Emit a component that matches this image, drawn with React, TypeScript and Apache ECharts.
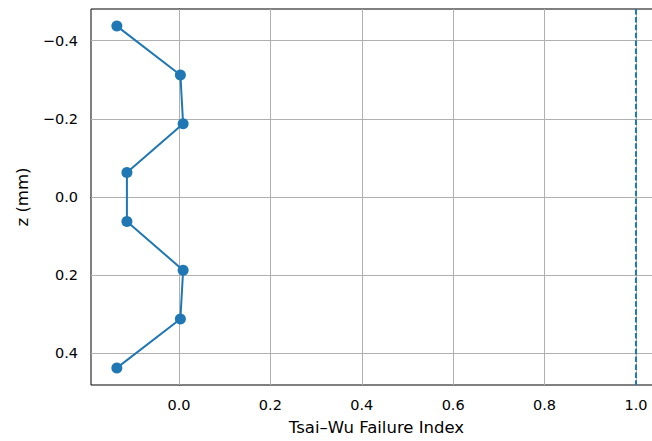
import React, { useEffect, useRef } from "react";
import * as echarts from "echarts";

// Tsai–Wu failure index at each ply mid-plane through the thickness
const zValues = [-0.4375, -0.3125, -0.1875, -0.0625, 0.0625, 0.1875, 0.3125, 0.4375];
const failureIndex = [-0.136, 0.003, 0.009, -0.114, -0.114, 0.009, 0.003, -0.136];
const failureLimit = 1.0;

const xTicks = [0.0, 0.2, 0.4, 0.6, 0.8, 1.0];
const yTicks = [-0.4, -0.2, 0.0, 0.2, 0.4];

const X_MIN = -0.1926;
const X_MAX = 1.057;
const Y_MIN = -0.48125;
const Y_MAX = 0.48125;

const BLUE = "#1f77b4";
const FONT = "DejaVu Sans";

const fmt = (v: number) => {
  const s = Math.abs(v) < 1e-9 ? "0.0" : v.toFixed(1);
  return s.replace("-", "\u2212");
};

export default function App() {
  const ref = useRef<HTMLDivElement>(null);

  useEffect(() => {
    document.body.style.overflow = "hidden";
    if (!ref.current) return;
    const chart = echarts.init(ref.current, undefined, { renderer: "svg" });

    const gridMarks = [
      ...xTicks.map((v) => ({ xAxis: v })),
      ...yTicks.map((v) => ({ yAxis: v })),
    ];

    chart.setOption({
      animation: false,
      backgroundColor: "#ffffff",
      textStyle: { fontFamily: FONT },
      grid: {
        left: 91,
        top: 9,
        width: 571,
        height: 378,
        show: true,
        borderColor: "#000000",
        borderWidth: 1,
        backgroundColor: "transparent",
      },
      xAxis: {
        type: "value",
        min: X_MIN,
        max: X_MAX,
        name: "Tsai\u2013Wu Failure Index",
        nameLocation: "middle",
        nameGap: 34,
        nameTextStyle: { fontSize: 16.5, color: "#000", fontFamily: FONT },
        axisLine: { show: true, lineStyle: { color: "#000", width: 1 } },
        axisTick: {
          show: true,
          length: 5,
          customValues: xTicks,
          lineStyle: { color: "#000", width: 1 },
        },
        axisLabel: {
          customValues: xTicks,
          formatter: (v: number) => fmt(v),
          fontSize: 14.5,
          color: "#000",
          margin: 12,
          fontFamily: FONT,
        },
        splitLine: { show: false },
      },
      yAxis: {
        type: "value",
        inverse: true,
        min: Y_MIN,
        max: Y_MAX,
        name: "z (mm)",
        nameLocation: "middle",
        nameGap: 60,
        nameTextStyle: { fontSize: 16.5, color: "#000", fontFamily: FONT },
        axisLine: { show: true, lineStyle: { color: "#000", width: 1 } },
        axisTick: {
          show: true,
          length: 5,
          customValues: yTicks,
          lineStyle: { color: "#000", width: 1 },
        },
        axisLabel: {
          customValues: yTicks,
          formatter: (v: number) => fmt(v),
          fontSize: 14.5,
          color: "#000",
          margin: 13,
          fontFamily: FONT,
        },
        splitLine: { show: false },
      },
      series: [
        {
          type: "line",
          data: [],
          z: 1,
          silent: true,
          markLine: {
            silent: true,
            symbol: "none",
            label: { show: false },
            lineStyle: { color: "#b0b0b0", width: 1, type: "solid" },
            data: gridMarks,
          },
        },
        {
          type: "line",
          z: 5,
          data: [
            [failureLimit, Y_MIN],
            [failureLimit, Y_MAX],
          ],
          symbol: "none",
          lineStyle: { color: BLUE, width: 2, type: [5.5, 2.4] },
        },
        {
          type: "line",
          z: 6,
          data: failureIndex.map((x, i) => [x, zValues[i]]),
          symbol: "circle",
          symbolSize: 11,
          itemStyle: { color: BLUE },
          lineStyle: { color: BLUE, width: 2 },
        },
      ],
    });

    return () => chart.dispose();
  }, []);

  return (
    <div
      ref={ref}
      style={{ position: "fixed", left: 0, top: 0, width: 690, height: 441, background: "#fff" }}
    />
  );
}
